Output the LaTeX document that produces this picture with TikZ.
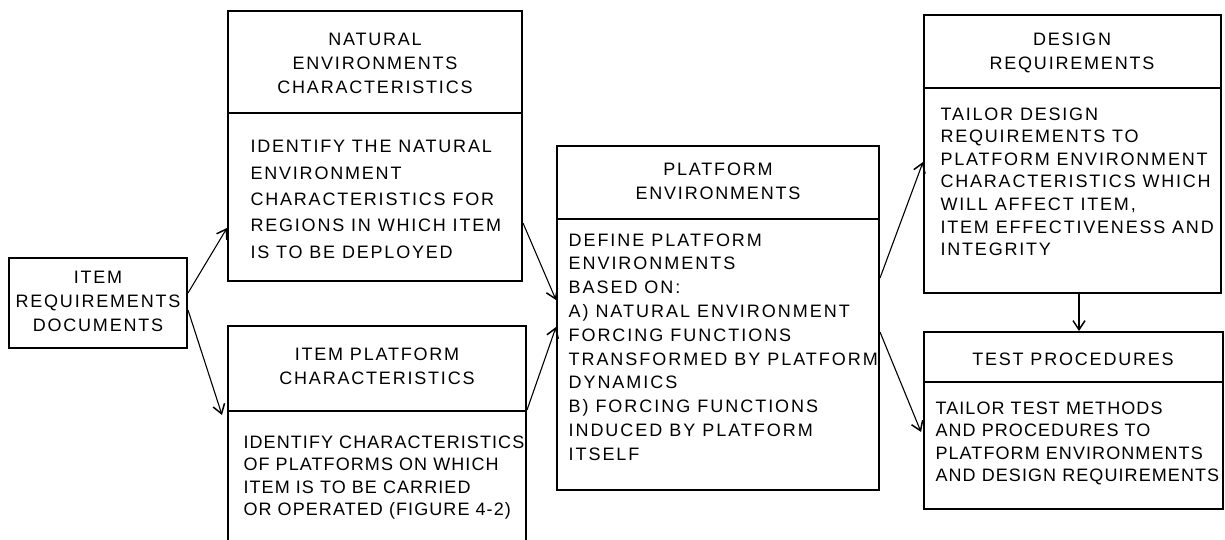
\documentclass[tikz,border=0pt]{standalone}
\usepackage{fontspec}
\setmainfont[LetterSpace=10]{Liberation Sans}
\usetikzlibrary{arrows.meta}
\begin{document}
\begin{tikzpicture}[x=1pt,y=-1pt,->,>={Straight Barb[length=9pt,width=12pt,line width=1.5pt]},line width=1.1pt,
    box/.style={draw,-,line width=2pt,inner sep=0pt},
    head/.style={align=center,inner sep=0pt,font=\fontsize{18}{24}\selectfont},
    body/.style={align=left,anchor=north west,inner sep=0pt,font=\fontsize{18}{22.6}\selectfont},
    narrow/.style={font=\fontsize{18}{22.6}\selectfont\addfontfeature{LetterSpace=6}}
                   ]
    \useasboundingbox (0,0) rectangle (1225,540);

    % boxes
    \node[box,minimum width=178pt,minimum height=90pt](item) at (98,303){};
    \node[box,minimum width=294pt,minimum height=270pt](nat) at (375,146){};
    \node[box,minimum width=298pt,minimum height=230pt](plat) at (377,441){};
    \node[box,minimum width=322pt,minimum height=344pt](penv) at (718,318){};
    \node[box,minimum width=297pt,minimum height=278pt](des) at (1072.5,154){};
    \node[box,minimum width=299pt,minimum height=177pt](test) at (1073.5,420.5){};

    % header lines
    \draw[-,line width=2pt] (nat.west |- 0,113) -- (nat.east |- 0,113);
    \draw[-,line width=2pt] (plat.west |- 0,411) -- (plat.east |- 0,411);
    \draw[-,line width=2pt] (penv.west |- 0,219) -- (penv.east |- 0,219);
    \draw[-,line width=2pt] (des.west |- 0,88) -- (des.east |- 0,88);
    \draw[-,line width=2pt] (test.west |- 0,382) -- (test.east |- 0,382);

    % texts
    \node[head](itemt) at (98,301){ITEM\\REQUIREMENTS\\DOCUMENTS};
    \node[head](nath) at (375,63){NATURAL\\ENVIRONMENTS\\CHARACTERISTICS};
    \node[body,font=\fontsize{18}{26.3}\selectfont](natb) at (250,140){IDENTIFY THE NATURAL\\ENVIRONMENT\\CHARACTERISTICS FOR\\REGIONS IN WHICH ITEM\\IS TO BE DEPLOYED};
    \node[head](plath) at (377,366){ITEM PLATFORM\\CHARACTERISTICS};
    \node[body,narrow](platb) at (243,435){IDENTIFY CHARACTERISTICS\\OF PLATFORMS ON WHICH\\ITEM IS TO BE CARRIED\\OR OPERATED (FIGURE 4-2)};
    \node[head](penvh) at (718,181){PLATFORM\\ENVIRONMENTS};
    \node[body,font=\fontsize{18}{23.8}\selectfont\addfontfeature{LetterSpace=11}](penvb) at (568,233){DEFINE PLATFORM\\ENVIRONMENTS\\BASED ON:\\A) NATURAL ENVIRONMENT\\FORCING FUNCTIONS\\TRANSFORMED BY PLATFORM\\DYNAMICS\\B) FORCING FUNCTIONS\\INDUCED BY PLATFORM\\ITSELF};
    \node[head](desh) at (1072,53){DESIGN\\REQUIREMENTS};
    \node[body](desb) at (940,107){TAILOR DESIGN\\REQUIREMENTS TO\\PLATFORM ENVIRONMENT\\CHARACTERISTICS WHICH\\WILL AFFECT ITEM,\\ITEM EFFECTIVENESS AND\\INTEGRITY};
    \node[head](testh) at (1073,359){TEST PROCEDURES};
    \node[body,narrow](testb) at (935,401){TAILOR TEST METHODS\\AND PROCEDURES TO\\PLATFORM ENVIRONMENTS\\AND DESIGN REQUIREMENTS};

    % arrows
    \draw (item.east |- 0,293) -- (nat.west |- 0,228);
    \draw (item.east |- 0,310) -- ([xshift=-5pt]plat.west |- 0,415);
    \draw (nat.east |- 0,223) -- (penv.west |- 0,300);
    \draw (plat.east |- 0,410) -- (penv.west |- 0,327);
    \draw (penv.east |- 0,278) -- (des.west |- 0,162);
    \draw (penv.east |- 0,332) -- ([xshift=-2pt]test.west |- 0,432);
    \draw (des.south -| 1079,0) -- (test.north -| 1079,0);

\end{tikzpicture}
\end{document}
